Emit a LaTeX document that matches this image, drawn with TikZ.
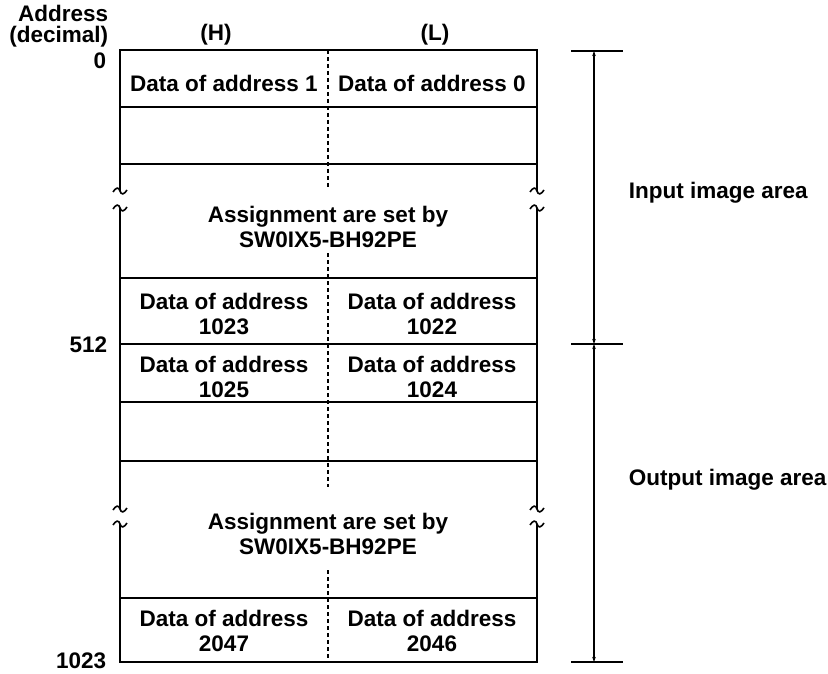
\documentclass[tikz,border=0pt]{standalone}
\usepackage{fontspec}
\setmainfont{Liberation Sans}
\usetikzlibrary{positioning}
\usetikzlibrary{arrows.meta}

\newcommand{\wavemark}[2]{%
  \draw[shift={(#1,#2)}] (-7,1) .. controls (-4,-4) and (-1,-4) .. (0,0) .. controls (1,4) and (4,4) .. (7,-1);}

\begin{document}
\begin{tikzpicture}[x=1pt, y=-1pt, line width=1.6pt,
  font=\fontsize{22.5}{25}\selectfont\bfseries,
  cell/.style={align=center, inner sep=0pt},
  lbl/.style={inner sep=0pt},
  dim/.style={line width=1.3pt, {Stealth[length=5pt,width=3.5pt]}-{Stealth[length=5pt,width=3.5pt]}},
  midline/.style={line width=1.2pt, dash pattern=on 4pt off 3pt}]
\useasboundingbox (0,0) rectangle (828,674);

% outer frame, broken twice
\draw (120,191) -- (120,50) -- (537,50) -- (537,191);
\draw (120,208) -- (120,509);
\draw (537,208) -- (537,509);
\draw (120,524) -- (120,662) -- (537,662) -- (537,524);
\wavemark{120}{191}
\wavemark{120}{208}
\wavemark{120}{509}
\wavemark{120}{524}
\wavemark{537}{191}
\wavemark{537}{208}
\wavemark{537}{509}
\wavemark{537}{524}

% rows
\foreach \y in {107,164,278,344,402,461,598}
  \draw (120,\y) -- (537,\y);

% (H) / (L) split
\draw[midline] (328,50) -- (328,188);
\draw[midline] (328,253) -- (328,487);
\draw[midline] (328,570) -- (328,662);

% cell texts
\node[cell] (D1) at (224,83) {Data of address 1};
\node[cell] (D0) at (432,83) {Data of address 0};
\node[cell] (AS1) at (328,227) {Assignment are set by\\SW0IX5-BH92PE};
\node[cell] (D1023) at (224,314) {Data of address\\1023};
\node[cell] (D1022) at (432,314) {Data of address\\1022};
\node[cell] (D1025) at (224,377) {Data of address\\1025};
\node[cell] (D1024) at (432,377) {Data of address\\1024};
\node[cell] (AS2) at (328,534) {Assignment are set by\\SW0IX5-BH92PE};
\node[cell] (D2047) at (224,631) {Data of address\\2047};
\node[cell] (D2046) at (432,631) {Data of address\\2046};

% headings and addresses
\node[lbl, anchor=east] (ADR) at (109,13) {Address};
\node[lbl, anchor=east] (DEC) at (109,37) {(decimal)};
\node[lbl] (H) at (216,35) {(H)};
\node[lbl] (L) at (435,35) {(L)};
\node[lbl, anchor=east] (A0) at (107,61) {0};
\node[lbl, anchor=east] (A512) at (108,345) {512};
\node[lbl, anchor=east] (A1023) at (107,661) {1023};

% area dimensions
\coordinate (TOP) at (594,51);
\coordinate (HALF) at (594,344);
\coordinate (BOT) at (594,662);
\draw (571,51) -- (623,51);
\draw (571,344) -- (623,344);
\draw (571,662) -- (623,662);
\draw[dim] (TOP) -- (HALF);
\draw[dim] (HALF) -- (BOT);
\node[lbl, anchor=west] (IN) at (628,193) {Input image area};
\node[lbl, anchor=west] (OUT) at (628,480) {Output image area};
\end{tikzpicture}
\end{document}
